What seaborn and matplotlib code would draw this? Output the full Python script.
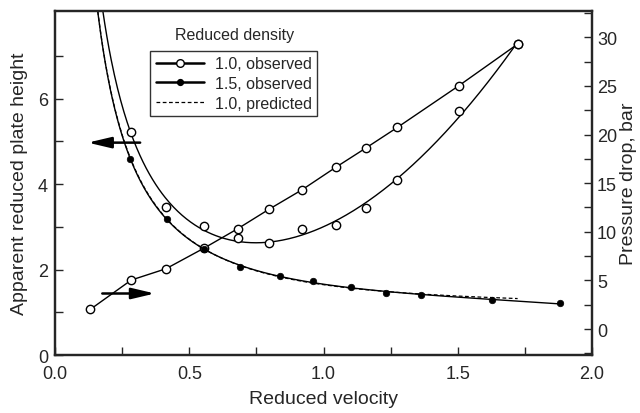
import numpy as np
import pandas as pd
import matplotlib
matplotlib.use("Agg")
import matplotlib.pyplot as plt
from matplotlib.lines import Line2D
from matplotlib.ticker import MultipleLocator, FixedLocator, FormatStrFormatter
import seaborn as sns

# ---- data ----
u_dp = [0.131, 0.284, 0.413, 0.553, 0.680, 0.796, 0.920, 1.045, 1.157, 1.275, 1.503, 1.723]
dp_bar = [2.02, 5.04, 6.20, 8.29, 10.31, 12.30, 14.32, 16.62, 18.60, 20.73, 25.0, 29.3]

u_10 = [0.284, 0.413, 0.553, 0.680, 0.796, 0.920, 1.045, 1.157, 1.275, 1.503, 1.723]
h_10 = [5.23, 3.47, 3.03, 2.73, 2.63, 2.94, 3.04, 3.43, 4.09, 5.72, 7.27]

u_15 = [0.280, 0.417, 0.553, 0.690, 0.837, 0.960, 1.101, 1.231, 1.362, 1.626, 1.882]
h_15 = [4.58, 3.18, 2.49, 2.07, 1.85, 1.73, 1.60, 1.46, 1.40, 1.29, 1.21]

u_pred = [0.284, 0.413, 0.553, 0.680, 0.796, 0.920, 1.045, 1.157, 1.275, 1.503, 1.723]
h_pred = [4.57, 3.20, 2.49, 2.10, 1.88, 1.74, 1.62, 1.53, 1.46, 1.38, 1.32]

# where the drawn fit curves leave the top of the frame
u_top_10 = 0.178
u_top_15 = 0.159

x_ticks = [0.0, 0.5, 1.0, 1.5, 2.0]
y_ticks = [0, 2, 4, 6]
y_minor = [1, 3, 5, 7]
legend_labels = ["1.0, observed", "1.5, observed", "1.0, predicted"]

Y_TOP = 8.05


def vd_fit(u, h, quad=False, top=None):
    u = list(u)
    h = list(h)
    if top is not None:
        u = [top] + u
        h = [Y_TOP] + h
    u = np.asarray(u, float)
    cols = [np.ones_like(u), 1.0 / u, u]
    if quad:
        cols.append(u ** 2)
    coef, *_ = np.linalg.lstsq(np.column_stack(cols), np.asarray(h, float), rcond=None)

    def f(x):
        x = np.asarray(x, float)
        c = [np.ones_like(x), 1.0 / x, x]
        if quad:
            c.append(x ** 2)
        return np.column_stack(c) @ coef
    return f


sns.set_style("ticks")
plt.rcParams["font.family"] = ["Liberation Sans", "DejaVu Sans"]
plt.rcParams["xtick.direction"] = "in"
plt.rcParams["ytick.direction"] = "in"

fig, ax = plt.subplots(figsize=(6.4, 4.14), dpi=100)
fig.subplots_adjust(left=0.086, right=0.925, top=0.971, bottom=0.140)
ax2 = ax.twinx()

f10 = vd_fit(u_10, h_10, quad=True, top=u_top_10)
f15 = vd_fit(u_15, h_15, quad=True, top=u_top_15)
fpr = vd_fit(u_pred, h_pred, quad=True, top=u_top_15)

xs10 = np.linspace(0.15, max(u_10), 400)
xs15 = np.linspace(0.14, max(u_15), 400)
xspr = np.linspace(0.14, max(u_pred), 400)

lw = 1.0
sns.lineplot(x=xs10, y=f10(xs10), ax=ax, color="black", lw=lw, sort=False, estimator=None)
sns.lineplot(x=xs15, y=f15(xs15), ax=ax, color="black", lw=lw, sort=False, estimator=None)
sns.lineplot(x=xspr, y=fpr(xspr), ax=ax, color="black", lw=0.9, ls=(0, (3, 2)), sort=False, estimator=None)

sns.scatterplot(x=u_15, y=h_15, ax=ax, s=22, color="black", edgecolor="black", linewidth=0.5, zorder=4)
sns.scatterplot(x=u_10, y=h_10, ax=ax, s=36, facecolor="white", edgecolor="black", linewidth=1.0, zorder=5)

sns.lineplot(x=u_dp, y=dp_bar, ax=ax2, color="black", lw=lw, sort=False, estimator=None)
sns.scatterplot(x=u_dp, y=dp_bar, ax=ax2, s=36, facecolor="white", edgecolor="black", linewidth=1.0, zorder=5)

ax.set_xlim(0, 2.0)
ax.set_ylim(0, Y_TOP)
ax2.set_ylim(-2.67, 32.7)

ax.xaxis.set_major_locator(FixedLocator(x_ticks))
ax.xaxis.set_minor_locator(MultipleLocator(0.25))
ax.xaxis.set_major_formatter(FormatStrFormatter("%.1f"))
ax.yaxis.set_major_locator(FixedLocator(y_ticks))
ax.yaxis.set_minor_locator(FixedLocator(y_minor))
ax2.yaxis.set_major_locator(MultipleLocator(5))
ax2.yaxis.set_minor_locator(MultipleLocator(2.5))

for a in (ax, ax2):
    a.tick_params(which="major", direction="in", length=6, width=1.0, labelsize=13)
    a.tick_params(which="minor", direction="in", length=6, width=1.0)
    for s in a.spines.values():
        s.set_linewidth(1.6)
        s.set_visible(True)
ax.tick_params(axis="x", which="major", pad=7)
ax.tick_params(axis="y", which="major", pad=5)
ax.tick_params(axis="y", which="both", left=True, right=False)
ax2.tick_params(axis="y", which="both", left=False, right=True)

ax.set_xlabel("Reduced velocity", fontsize=14, labelpad=6)
ax.set_ylabel("Apparent reduced plate height", fontsize=14, labelpad=7)
ax2.set_ylabel("Pressure drop, bar", fontsize=14, labelpad=2)

# arrows
ax.annotate("", xy=(0.122, 4.97), xytext=(0.317, 4.97),
            arrowprops=dict(arrowstyle="-|>,head_length=1.4,head_width=0.33", mutation_scale=10,
                            color="black", lw=1.8, shrinkA=0, shrinkB=0))
ax.annotate("", xy=(0.372, 1.44), xytext=(0.176, 1.44),
            arrowprops=dict(arrowstyle="-|>,head_length=1.4,head_width=0.33", mutation_scale=10,
                            color="black", lw=1.8, shrinkA=0, shrinkB=0))

handles = [
    Line2D([], [], color="black", lw=1.8, marker="o", markersize=5.5, markerfacecolor="white",
           markeredgecolor="black", markeredgewidth=1.0),
    Line2D([], [], color="black", lw=1.8, marker="o", markersize=4.2, markerfacecolor="black",
           markeredgecolor="black"),
    Line2D([], [], color="black", lw=0.9, ls=(0, (3, 2))),
]
leg = ax.legend(handles, legend_labels, loc="upper left", bbox_to_anchor=(0.177, 0.885),
                borderaxespad=0, frameon=True, fancybox=False, fontsize=11.5,
                handlelength=3.0, handletextpad=0.7, labelspacing=0.3, borderpad=0.35)
leg.get_frame().set_edgecolor("black")
leg.get_frame().set_linewidth(1.0)
leg.set_zorder(10)
ax.text(0.335, 0.933, "Reduced density", transform=ax.transAxes, ha="center", va="center", fontsize=11.5)

ax.set_zorder(ax2.get_zorder() + 1)
ax.patch.set_visible(False)

fig.savefig("out.png", dpi=100)
